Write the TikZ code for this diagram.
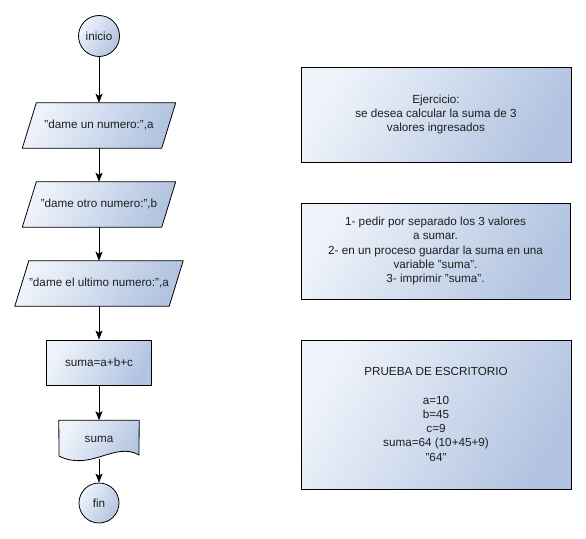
\documentclass[tikz,border=0pt]{standalone}
\usepackage{fontspec}
\setmainfont{Liberation Sans}
\usetikzlibrary{arrows.meta,backgrounds}
\definecolor{fillA}{RGB}{238,243,250}
\definecolor{fillB}{RGB}{178,196,225}
\definecolor{inkgrey}{RGB}{30,30,30}
\begin{document}
\begin{tikzpicture}[x=1pt,y=-1pt,
  every node/.style={font=\fontsize{11.7}{14.3}\selectfont, text=inkgrey},
  grad/.style={top color=fillA, bottom color=fillB, shading angle=60},
  outline/.style={draw=black, line width=0.8pt},
  term/.style={circle, grad, outline, minimum size=41pt, inner sep=0pt},
  io/.style={minimum width=139pt, minimum height=45pt, inner sep=0pt},
  proc/.style={rectangle, grad, outline, minimum width=105pt, minimum height=45pt, inner sep=0pt},
  note/.style={rectangle, grad, outline, align=center, inner sep=0pt},
  arr/.style={-{Stealth[length=9pt,width=7pt,inset=2pt]}, line width=0.8pt, black}]
\useasboundingbox (0,0) rectangle (586,538);

% flowchart column
\node[term] (inicio) at (99,36) {inicio};
\node[io] (p1) at (99,125.5) {"dame un numero:",a};
\node[io] (p2) at (99,204.5) {"dame otro numero:",b};
\node[io, minimum width=154pt] (p3) at (99,283.5) {"dame el ultimo numero:",a};
\node[proc] (calc) at (99,362.5) {suma=a+b+c};
\node[minimum width=80pt, minimum height=38pt, inner sep=0pt] (out) at (99,439.5) {suma};
\node[term, minimum size=40pt] (fin) at (99,503) {fin};

% input/output parallelograms and the printed document shape
\begin{scope}[on background layer]
  \foreach \n in {p1,p2,p3}
    \shade[grad, outline] ([xshift=7pt]\n.north west) -- ([xshift=7pt]\n.north east)
      -- ([xshift=-7pt]\n.south east) -- ([xshift=-7pt]\n.south west) -- cycle;
  \shade[grad, outline] (out.north west) -- (out.north east) -- (139,455)
    .. controls (115,441) and (90,472) .. (59,456) -- cycle;
\end{scope}

\draw[arr] (inicio) -- (p1);
\draw[arr] (p1) -- (p2);
\draw[arr] (p2) -- (p3);
\draw[arr] (p3) -- (calc);
\draw[arr] (calc) -- (out);
\draw[arr] (out.south) -- (fin);

% notes on the right
\node[note, minimum width=270pt, minimum height=95pt] (n1) at (436,114.5)
  {Ejercicio:\\se desea calcular la suma de 3\\valores ingresados};
\node[note, minimum width=269pt, minimum height=96pt] (n2) at (435.5,251)
  {1- pedir por separado los 3 valores\\a sumar.\\2- en un proceso guardar la suma en una\\variable "suma".\\3- imprimir "suma".};
\node[note, minimum width=270pt, minimum height=149pt] (n3) at (436,414.5)
  {PRUEBA DE ESCRITORIO\\[14pt]a=10\\b=45\\c=9\\suma=64 (10+45+9)\\"64"};
\end{tikzpicture}
\end{document}
